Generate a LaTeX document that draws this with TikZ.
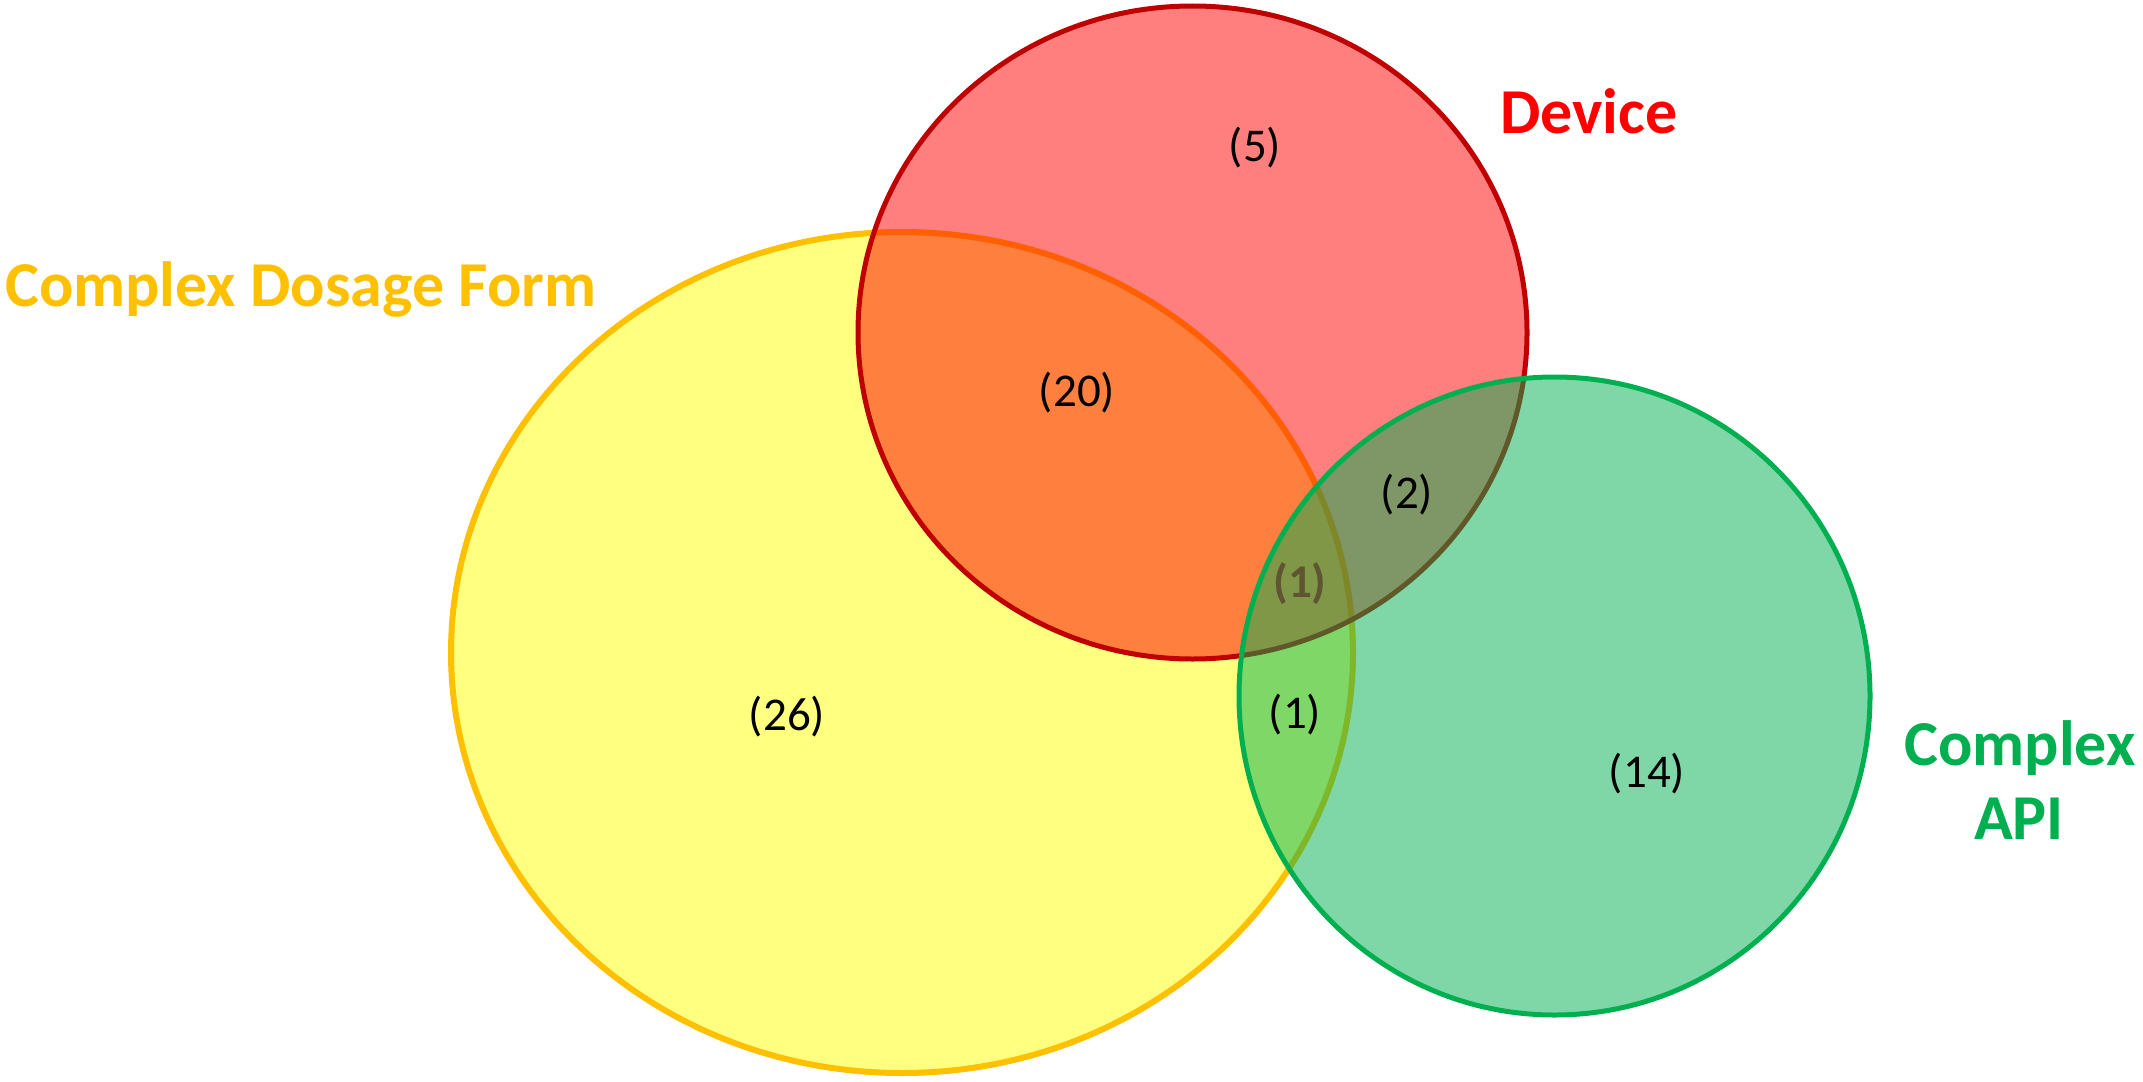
\documentclass[tikz,border=0pt]{standalone}
\usepackage{fontspec}
\setmainfont{Carlito}
\begin{document}
\begin{tikzpicture}[x=1pt,y=-1pt,
  setlabel/.style={font=\fontsize{64}{70}\selectfont\bfseries, inner sep=0pt, anchor=base west},
  count/.style={font=\fontsize{47}{50}\selectfont, inner sep=0pt, text=black},
]
\definecolor{yfill}{HTML}{FFFF80}
\definecolor{yline}{HTML}{FFC000}
\definecolor{rline}{HTML}{C00000}
\definecolor{gline}{HTML}{00B050}
\definecolor{dimtext}{HTML}{5F5532}
\useasboundingbox (0,0) rectangle (2143,1081);
% Complex Dosage Form
\path[fill=yfill] (902,652.5) ellipse [x radius=451, y radius=420.5];
\draw[yline, line width=6pt] (902,652.5) ellipse [x radius=451, y radius=420.5];
% Device
\path[fill=red, fill opacity=0.5] (1192.5,332.5) ellipse [x radius=334.5, y radius=326.5];
\draw[rline, line width=5pt] (1192.5,332.5) ellipse [x radius=334.5, y radius=326.5];
% Complex API
\path[fill=gline, fill opacity=0.5] (1554.5,696) ellipse [x radius=315.5, y radius=319];
\draw[gline, line width=5pt] (1554.5,696) ellipse [x radius=315.5, y radius=319];
% labels
\node[setlabel, text=yline] (cdf) at (5,306) {Complex Dosage Form};
\node[setlabel, text=red] (dev) at (1500,133) {Device};
\node[setlabel, text=gline, anchor=base] (api1) at (2020,765) {Complex};
\node[setlabel, text=gline, anchor=base] (api2) at (2019,839) {API};
% counts
\node[count] (n5) at (1255,148) {(5)};
\node[count] (n20) at (1077,393) {(20)};
\node[count] (n2) at (1407,495) {(2)};
\node[count, text=dimtext, font=\fontsize{47}{50}\selectfont\bfseries] (n1a) at (1300,584) {(1)};
\node[count] (n1b) at (1295,715) {(1)};
\node[count] (n26) at (787,717) {(26)};
\node[count] (n14) at (1647,774) {(14)};
\end{tikzpicture}
\end{document}
